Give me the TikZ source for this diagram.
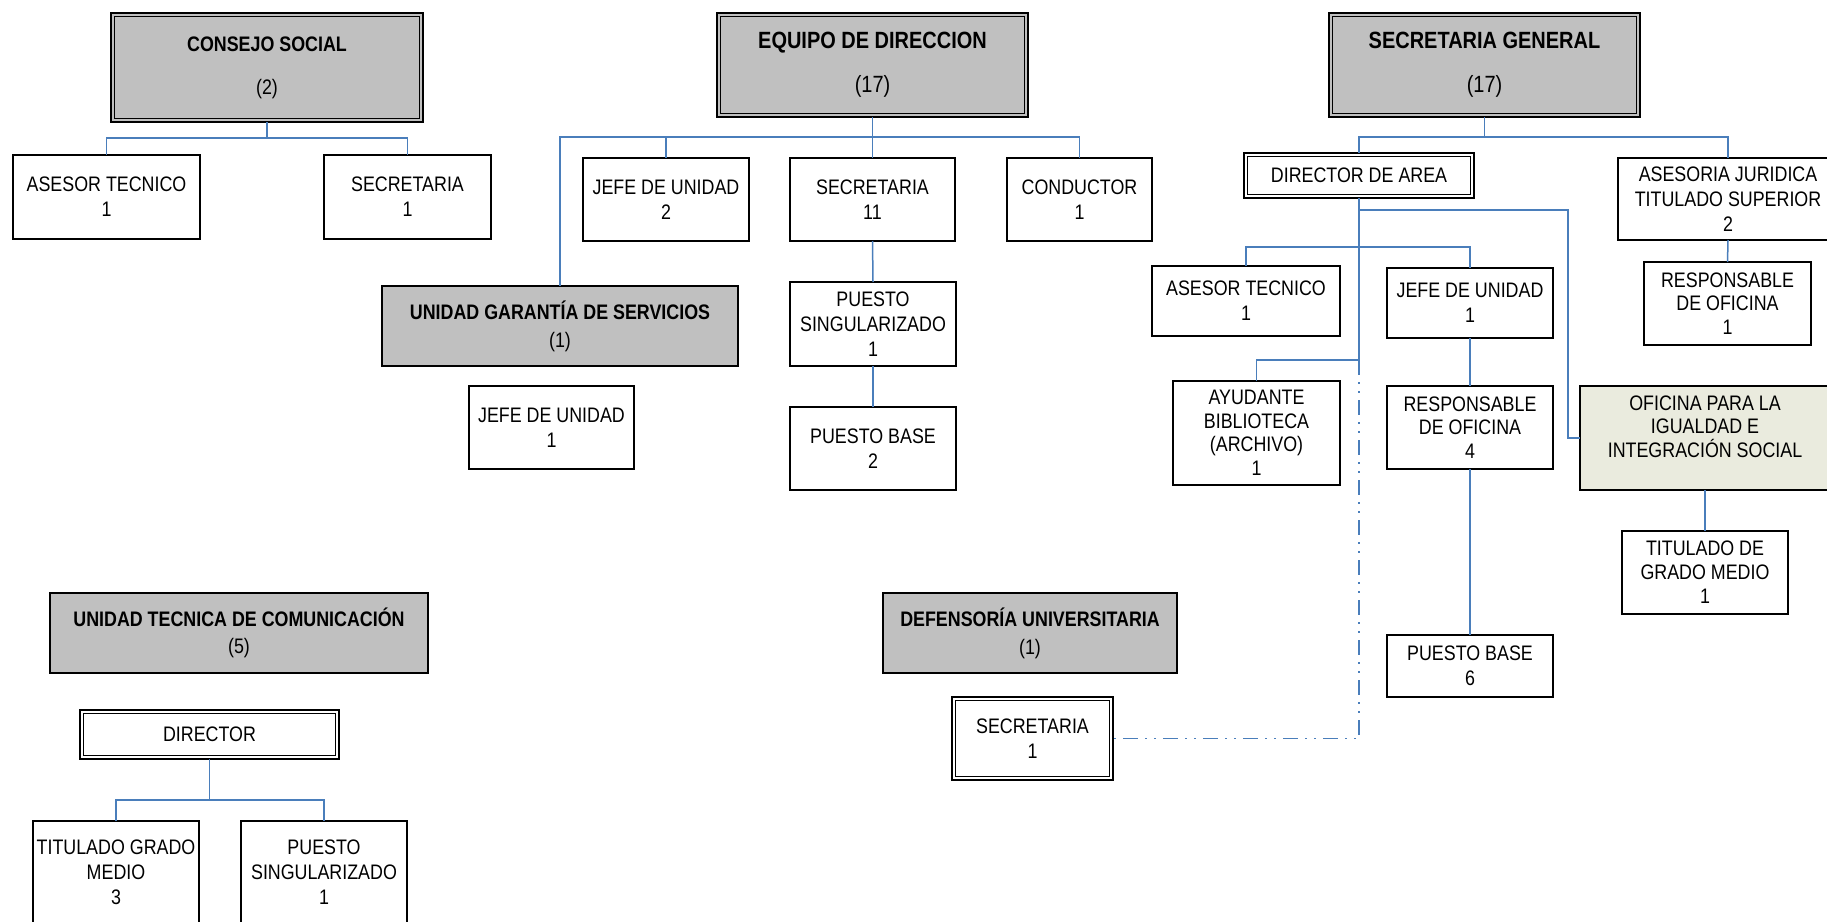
\documentclass[tikz,border=0pt]{standalone}
\usepackage{fontspec}
\setmainfont{Liberation Sans}[FakeStretch=0.85]
\definecolor{boxgray}{RGB}{192,192,192}
\definecolor{officegreen}{RGB}{234,235,222}
\definecolor{linkblue}{RGB}{74,126,187}
\tikzset{
  post/.style={
    % The shape:
    shape=rectangle,
    % The border:
    draw=black,line width=1.6pt,
    % The text:
    align=center,inner sep=0pt,outer sep=0pt,
    font=\fontsize{21}{25}\selectfont}}
\tikzset{
  unit/.style={
    % gray box of a unit, plain border
    post,fill=boxgray}}
\tikzset{
  dpost/.style={
    % thick outer border and a thin line inside it
    post,line width=2.6pt,
    path picture={
      \draw[line width=1.1pt]
        ([shift={(3.8pt,-3.8pt)}]path picture bounding box.north west) rectangle
        ([shift={(-3.8pt,3.8pt)}]path picture bounding box.south east);}}}
\tikzset{
  head/.style={
    % gray box with the same double border
    dpost,fill=boxgray}}
\tikzset{
  link/.style={draw=linkblue,line width=1.5pt},
  linkdash/.style={link,dash pattern=on 15pt off 7pt on 2pt off 7pt on 2pt off 7pt}}

\begin{document}
\begin{tikzpicture}[x=1pt,y=-1pt]
	\path[use as bounding box,clip] (0,0) rectangle (1827,921);
	% Consejo social
	\node[head,minimum width=312,minimum height=109] (cs) at (267,67.5)
		{{\bfseries CONSEJO SOCIAL}\\[18pt](2)};
	\node[post,minimum width=187,minimum height=84] (csat) at (106.5,197) {ASESOR TECNICO\\1};
	\node[post,minimum width=167,minimum height=84] (cssec) at (407.5,197) {SECRETARIA\\1};
	% Equipo de direccion
	\node[head,minimum width=311,minimum height=104] (eq) at (872.5,65)
		{{\bfseries\fontsize{23.5}{27}\selectfont EQUIPO DE DIRECCION}\\[19pt]{\fontsize{23.5}{27}\selectfont (17)}};
	\node[post,minimum width=166,minimum height=83] (eqjefe) at (666,199.5) {JEFE DE UNIDAD\\2};
	\node[post,minimum width=165,minimum height=83] (eqsec) at (872.5,199.5) {SECRETARIA\\11};
	\node[post,minimum width=145,minimum height=83] (eqcond) at (1079.5,199.5) {CONDUCTOR\\1};
	\node[unit,minimum width=356,minimum height=80] (ugs) at (560,326)
		{{\bfseries UNIDAD GARANTÍA DE SERVICIOS}\\[3pt](1)};
	\node[post,minimum width=165,minimum height=83] (ugsjefe) at (551.5,427.5) {JEFE DE UNIDAD\\1};
	\node[post,minimum width=166,minimum height=84] (eqps) at (873,324) {PUESTO\\SINGULARIZADO\\1};
	\node[post,minimum width=166,minimum height=83] (eqpb) at (873,448.5) {PUESTO BASE\\2};
	% Secretaria general
	\node[head,minimum width=311,minimum height=104] (sg) at (1484.5,65)
		{{\bfseries\fontsize{23.5}{27}\selectfont SECRETARIA GENERAL}\\[19pt]{\fontsize{23.5}{27}\selectfont (17)}};
	\node[dpost,minimum width=230,minimum height=45] (da) at (1359,175.5) {DIRECTOR DE AREA};
	\node[post,minimum width=220,minimum height=82] (asj) at (1728,199) {ASESORIA JURIDICA\\TITULADO SUPERIOR\\2};
	\node[post,minimum width=167,minimum height=83,font=\fontsize{21}{23.5}\selectfont] (asjresp) at (1727.5,303.5) {RESPONSABLE\\DE OFICINA\\1};
	\node[post,minimum width=188,minimum height=70] (daat) at (1246,301) {ASESOR TECNICO\\1};
	\node[post,minimum width=166,minimum height=70] (dajefe) at (1470,303) {JEFE DE UNIDAD\\1};
	\node[post,minimum width=167,minimum height=104,font=\fontsize{21}{23.5}\selectfont] (daay) at (1256.5,433) {AYUDANTE\\BIBLIOTECA\\(ARCHIVO)\\1};
	\node[post,minimum width=166,minimum height=83,font=\fontsize{21}{23.5}\selectfont] (daresp) at (1470,427.5) {RESPONSABLE\\DE OFICINA\\4};
	\node[post,minimum width=166,minimum height=62] (dapb) at (1470,666) {PUESTO BASE\\6};
	\node[post,fill=officegreen,minimum width=250,minimum height=104,font=\fontsize{21}{23.5}\selectfont] (ofi) at (1705,438)
		{OFICINA PARA LA\\IGUALDAD E\\INTEGRACIÓN SOCIAL\\\mbox{}};
	\node[post,minimum width=166,minimum height=83,font=\fontsize{21}{24}\selectfont] (ofitit) at (1705,572.5) {TITULADO DE\\GRADO MEDIO\\1};
	% Unidad tecnica de comunicacion
	\node[unit,minimum width=378,minimum height=80] (utc) at (239,633)
		{{\bfseries UNIDAD TECNICA DE COMUNICACIÓN}\\[2pt](5)};
	\node[dpost,minimum width=259,minimum height=49] (utcdir) at (209.5,734.5) {DIRECTOR};
	\node[post,minimum width=166,minimum height=103] (utctgm) at (116,872.5) {TITULADO GRADO\\MEDIO\\3};
	\node[post,minimum width=166,minimum height=103] (utcps) at (324,872.5) {PUESTO\\SINGULARIZADO\\1};
	% Defensoria universitaria
	\node[unit,minimum width=294,minimum height=80] (du) at (1030,633)
		{{\bfseries DEFENSORÍA UNIVERSITARIA}\\[3pt](1)};
	\node[dpost,minimum width=161,minimum height=83] (dusec) at (1032.5,738.5) {SECRETARIA\\1};
	% Lines out of cs
	\coordinate (csbar) at (267,138);
	\draw[link] (cs.south) -- (csbar);
	\draw[link] (csbar) -| (csat.north);
	\draw[link] (csbar) -| (cssec.north);
	% Lines out of eq
	\coordinate (eqbar) at (872.5,137);
	\draw[link] (eq.south) -- (eqbar) -- (eqsec.north);
	\draw[link] (eqbar) -| (ugs.north);
	\draw[link] (eqbar) -| (eqjefe.north);
	\draw[link] (eqbar) -| (eqcond.north);
	\draw[link] (eqsec.south) -- (eqps.north);
	\draw[link] (eqps.south) -- (eqpb.north);
	% Lines out of sg
	\coordinate (sgbar) at (1484.5,137);
	\draw[link] (sg.south) -- (sgbar);
	\draw[link] (sgbar) -| (da.north);
	\draw[link] (sgbar) -| (asj.north);
	\draw[link] (asj.south) -- (asjresp.north);
	% Lines out of da
	\coordinate (daofi) at (1359,210);
	\coordinate (daturn) at (1568,210);
	\coordinate (dajef) at (1359,247);
	\coordinate (dayud) at (1359,360);
	\draw[link] (da.south) -- (dayud);
	\draw[link] (daofi) -- (daturn) |- (ofi.west);
	\draw[link] (dajef) -| (daat.north);
	\draw[link] (dajef) -| (dajefe.north);
	\draw[link] (dayud) -| (daay.north);
	\draw[linkdash] (dayud) |- (dusec.east);
	\draw[link] (dajefe.south) -- (daresp.north);
	\draw[link] (daresp.south) -- (dapb.north);
	\draw[link] (ofi.south) -- (ofitit.north);
	% Lines out of utc
	\coordinate (utcbar) at (209.5,800);
	\draw[link] (utcdir.south) -- (utcbar);
	\draw[link] (utcbar) -| (utctgm.north);
	\draw[link] (utcbar) -| (utcps.north);
\end{tikzpicture}
\end{document}
